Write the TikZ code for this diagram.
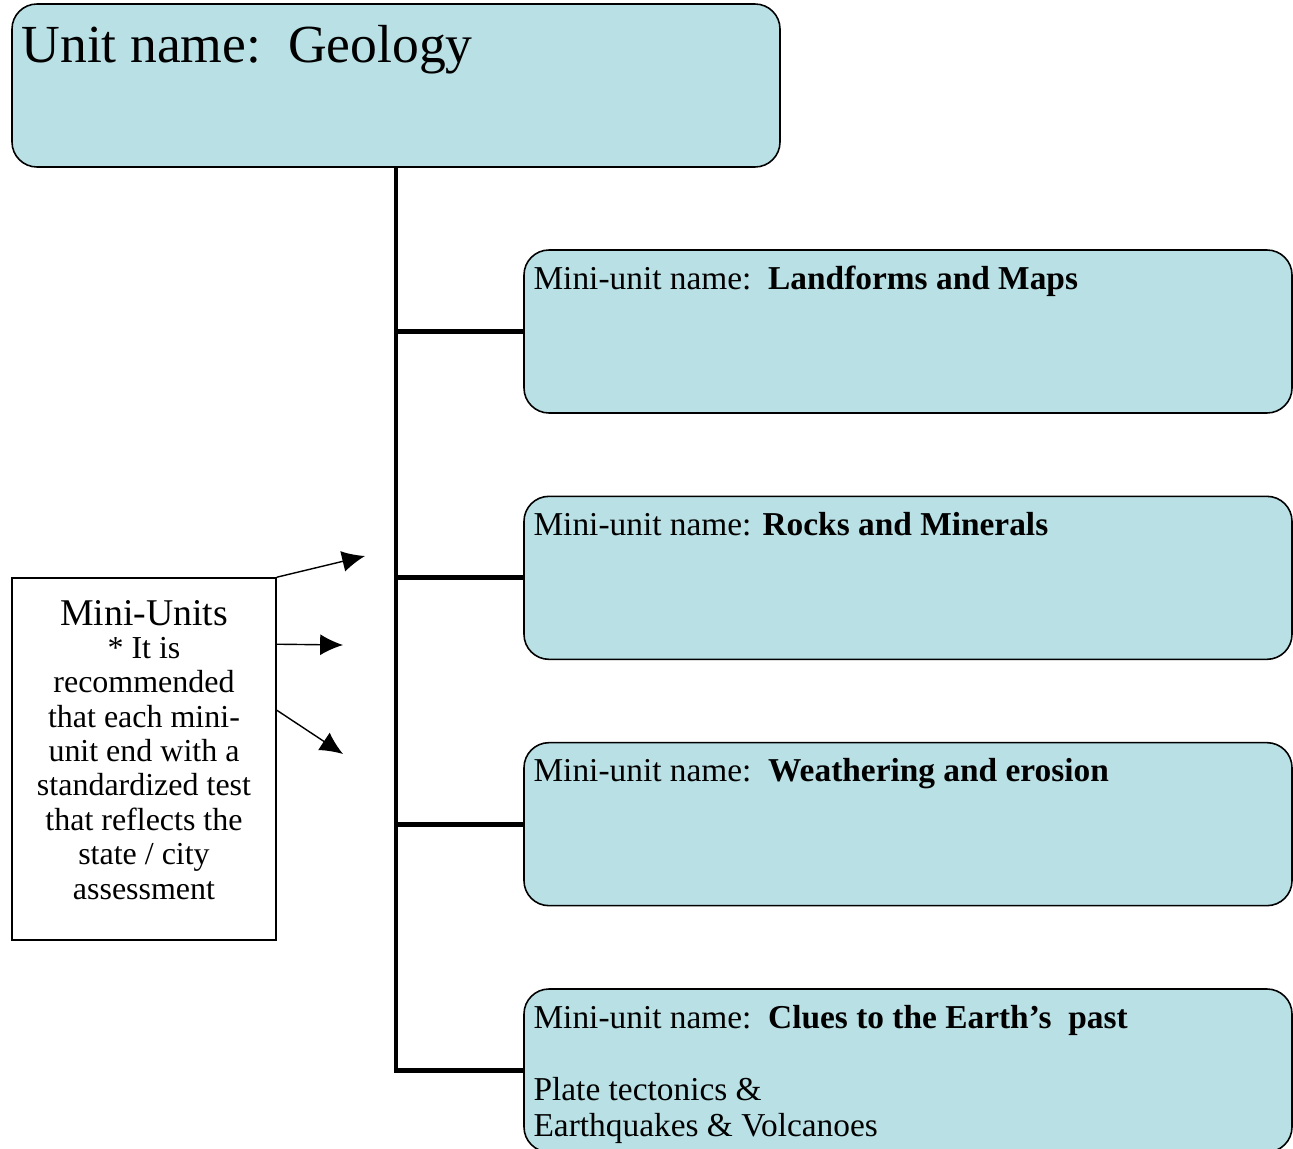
\documentclass[tikz,border=0pt]{standalone}
\usepackage{fontspec}
\setmainfont{Liberation Serif}
\usetikzlibrary{arrows.meta, positioning}
\definecolor{boxfill}{RGB}{185,224,228}

\begin{document}
\begin{tikzpicture}[node distance=1.635cm, >={Latex[length=13pt,width=12pt]},
  unitbox/.style={draw, line width=0.9pt, rounded corners=0.5cm, fill=boxfill, minimum width=15.36cm, minimum height=3.26cm, inner sep=0pt},
  boxtext/.style={anchor=base west, inner sep=0pt, align=left, font=\fontsize{19}{20.5}\selectfont},
  trunk/.style={line width=2.8pt}]

\useasboundingbox (0,0) rectangle (25.86,-22.98);

% Nodes
\node (unit) [unitbox] at (7.92,-1.71) {};
\node (mu1) [unitbox] at (18.16,-6.63) {};
\node (mu2) [unitbox, below=of mu1] {};
\node (mu3) [unitbox, below=of mu2] {};
\node (mu4) [unitbox, below=of mu3] {};
\node (note) [draw, line width=0.9pt, minimum width=5.28cm, minimum height=7.24cm, inner sep=0pt] at (2.88,-15.18) {};

% Texts (base of a multi-line node is its last line)
\node (unittxt) [boxtext, font=\fontsize{30.5}{36}\selectfont] at ([shift={(0.2,-1.18)}]unit.north west) {Unit name:\ \ Geology};
\node (mu1txt) [boxtext] at ([shift={(0.2,-0.8)}]mu1.north west) {Mini-unit name:\ \ \textbf{Landforms and Maps}};
\node (mu2txt) [boxtext] at ([shift={(0.2,-0.8)}]mu2.north west) {Mini-unit name: \textbf{Rocks and Minerals}};
\node (mu3txt) [boxtext] at ([shift={(0.2,-0.8)}]mu3.north west) {Mini-unit name:\ \ \textbf{Weathering and erosion}};
\node (mu4txt) [boxtext] at ([shift={(0.2,-0.8)}]mu4.north west) {Mini-unit name:\ \ \textbf{Clues to the Earth’s\ \ past}};
\node (mu4more) [boxtext] at ([shift={(0.2,-2.96)}]mu4.north west) {Plate tectonics \&\\Earthquakes \& Volcanoes};
\node (notetitle) [anchor=base, inner sep=0pt, font=\fontsize{21.5}{24}\selectfont] at ([yshift=-0.96cm]note.north) {Mini-Units};
\node (notebody) [anchor=base, inner sep=0pt, align=center, font=\fontsize{18.2}{19.6}\selectfont] at ([yshift=-6.44cm]note.north) {* It is\\recommended\\that each mini-\\unit end with a\\standardized test\\that reflects the\\state / city\\assessment};

% Lines
\draw[trunk] (unit.south) |- (mu1.west);
\draw[trunk] (unit.south) |- (mu2.west);
\draw[trunk] (unit.south) |- (mu3.west);
\draw[trunk] (unit.south) |- (mu4.west);

% Arrows
\coordinate (a1) at (7.3,-11.12);
\coordinate (a2) at (6.86,-12.9);
\coordinate (a3) at (6.86,-15.08);
\draw[->, line width=0.8pt] (note.north east) -- (a1);
\draw[->, line width=0.8pt] ([yshift=-1.34cm]note.north east) -- (a2);
\draw[->, line width=0.8pt] ([yshift=-2.66cm]note.north east) -- (a3);

\end{tikzpicture}
\end{document}
